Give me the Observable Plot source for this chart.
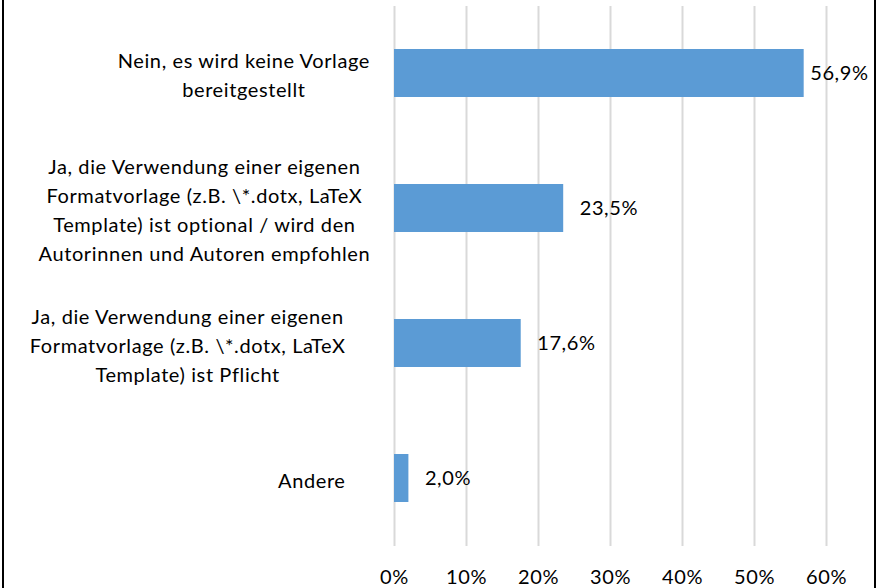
<!DOCTYPE html>
<html>
<head>
<meta charset="utf-8">
<script src="https://cdn.jsdelivr.net/npm/d3@7"></script>
<script src="https://cdn.jsdelivr.net/npm/@observablehq/plot@0.6"></script>
<style>
  html, body { margin: 0; padding: 0; background: #fff; }
  #wrap { position: relative; width: 883px; height: 588px; overflow: hidden; }
  .edge { position: absolute; top: 0; width: 2px; height: 588px; background: #000; }
  #chart svg text { letter-spacing: 0.6px; }
</style>
</head>
<body>
<div id="wrap">
  <div id="chart"></div>
  <div class="edge" style="left:2px"></div>
  <div class="edge" style="left:874px"></div>
</div>
<script>
const categories = [
  "Nein, es wird keine Vorlage\nbereitgestellt",
  "Ja, die Verwendung einer eigenen\nFormatvorlage (z.B. \\*.dotx, LaTeX\nTemplate) ist optional / wird den\nAutorinnen und Autoren empfohlen",
  "Ja, die Verwendung einer eigenen\nFormatvorlage (z.B. \\*.dotx, LaTeX\nTemplate) ist Pflicht",
  "Andere"
];
const values = [56.9, 23.5, 17.6, 2.0];
const xTicks = [0, 10, 20, 30, 40, 50, 60];

const FONT = "Lato";
const FS = 20;
const LS = 0.6;
// gap between each label block's right edge and the axis (style)
const labelGap = [24, 24, 49, 49];
const data = categories.map((c, i) => ({cat: c, value: values[i], gap: labelGap[i]}));

const ctx = document.createElement("canvas").getContext("2d");
ctx.font = `${FS}px ${FONT}`;
const lineWidth = l => ctx.measureText(l).width + LS * l.length;
const blockWidth = c => Math.max(...c.split("\n").map(lineWidth));

const fmt = v => v.toFixed(1).replace(".", ",") + "%";

const labelMarks = data.map(d => Plot.text([d], {
  y: "cat", text: "cat", frameAnchor: "left", textAnchor: "middle",
  lineAnchor: "middle", lineHeight: 1.45, fontSize: FS, fill: "#000",
  dx: -(d.gap + blockWidth(d.cat) / 2)
}));

const chart = Plot.plot({
  width: 883,
  height: 588,
  marginLeft: 394,
  marginRight: 57,
  marginTop: 6,
  marginBottom: 42,
  style: {fontFamily: FONT, fontSize: FS + "px", color: "#000", background: "#fff"},
  x: {domain: [0, 60], label: null},
  y: {domain: categories, paddingInner: 0.644, paddingOuter: 0.322, axis: null},
  marks: [
    Plot.ruleX(xTicks, {stroke: "#d9d9d9", strokeWidth: 2}),
    Plot.barX(data, {x: "value", y: "cat", fill: "#5B9BD5"}),
    Plot.text(data.filter(d => d.value < 50), {x: "value", y: "cat", text: d => fmt(d.value), textAnchor: "start", dx: 16, fontSize: FS, fill: "#000"}),
    Plot.text(data.filter(d => d.value >= 50), {x: "value", y: "cat", text: d => fmt(d.value), textAnchor: "start", dx: 6, fontSize: FS, fill: "#000"}),
    Plot.axisX({ticks: xTicks, tickFormat: d => d + "%", tickSize: 0, tickPadding: 23, fontSize: FS, fill: "#000", label: null}),
    ...labelMarks
  ]
});
document.getElementById("chart").appendChild(chart);
</script>
</body>
</html>
